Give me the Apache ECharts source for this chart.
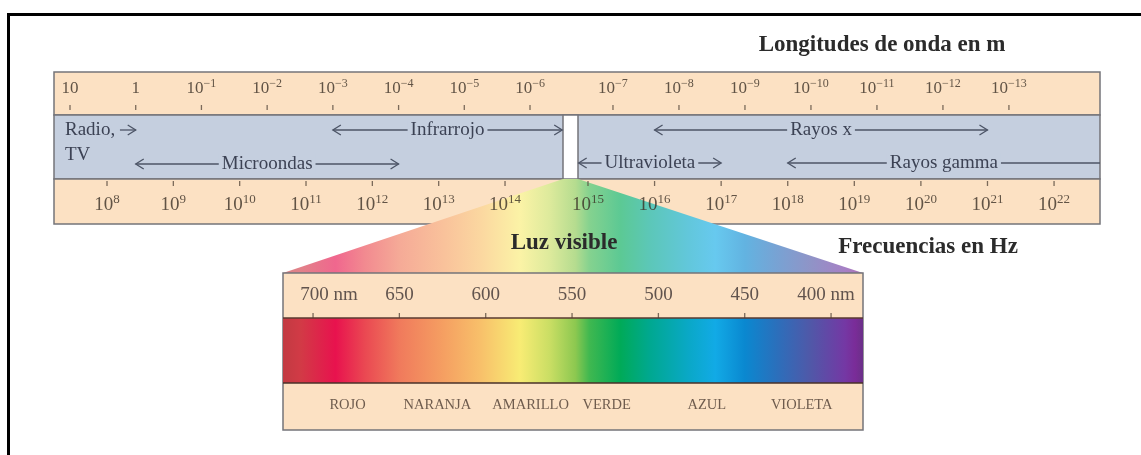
<!DOCTYPE html>
<html>
<head>
<meta charset="utf-8">
<title>Espectro electromagnético</title>
<script src="https://cdn.jsdelivr.net/npm/echarts@6/dist/echarts.min.js"></script>
<style>
html, body { margin: 0; padding: 0; background: #fff; }
#main { width: 1141px; height: 455px; }
</style>
</head>
<body>
<div id="main"></div>
<script>
// potencias de 10 de la longitud de onda (m) y de la frecuencia (Hz)
var longitudExp = [1, 0, -1, -2, -3, -4, -5, -6, -7, -8, -9, -10, -11, -12, -13];
var frecuenciaExp = [8, 9, 10, 11, 12, 13, 14, 15, 16, 17, 18, 19, 20, 21, 22];

// luz visible (nm)
var visibleNm = [700, 650, 600, 550, 500, 450, 400];
var colorNombre = ['ROJO', 'NARANJA', 'AMARILLO', 'VERDE', 'AZUL', 'VIOLETA'];
var colorNm = [680, 628, 574, 530, 472, 417];

var espectroNm = [717.4, 707, 687, 670, 650, 624, 603, 580, 563, 548, 540, 522, 505, 482, 467, 450, 432, 412, 392, 386, 381.5];
var espectroColor = ['#c23a42', '#d23a46', '#e8124e', '#ea4852', '#f07a5c', '#f5a062', '#f8c06a', '#f8ec74', '#cade64', '#8cc850', '#40b850', '#00aa58', '#00a890', '#0aa8c8', '#12aae6', '#0a88d0', '#2a70bc', '#5058a8', '#7438a4', '#7a2c98', '#6a3088'];

// regiones (log10 de la longitud de onda a la izquierda, de la frecuencia a la derecha)
var regionNombre = ['', 'Infrarrojo', 'Microondas', 'Rayos x', 'Ultravioleta', 'Rayos gamma'];
var regionDesde = [0.24, -3, 0, 16, 14.86, 18];
var regionHasta = [0, -6.49, -4, 21, 17, 22.69];

var serif = "'Liberation Serif', 'DejaVu Serif', serif";
var naranja = '#fce1c3', azulGris = '#c5cfdf', borde = '#74747a';

// limites de las escalas
var lamIzq = [-6.502, 1.2435], frIzq = [7.201, 14.874];
var lamDer = [-14.38, -6.47], frDer = [14.85, 22.69];
var nmMin = 381.5, nmMax = 717.4;

function mezcla(hex, f) {
  var n = parseInt(hex.slice(1), 16);
  var r = (n >> 16) & 255, g = (n >> 8) & 255, b = n & 255;
  r = Math.round(r * (1 - f) + 255 * f);
  g = Math.round(g * (1 - f) + 255 * f);
  b = Math.round(b * (1 - f) + 255 * f);
  return 'rgb(' + r + ',' + g + ',' + b + ')';
}

function etiquetaPot(e) {
  if (e === 1) return '{b|10}';
  if (e === 0) return '{b|1}';
  return '{b|10}{s|' + (e < 0 ? '\u2212' : '') + Math.abs(e) + '}';
}
function richPot(tam, sup) {
  return {
    b: { fontSize: tam, fontFamily: serif, color: '#3a2f26', lineHeight: tam + 5 },
    s: { fontSize: sup, fontFamily: serif, color: '#3a2f26', lineHeight: sup, verticalAlign: 'top' }
  };
}

function serieMarcas(valores, xi, yi, yTick, yTxt, tam, sup) {
  return [{
    type: 'scatter', xAxisIndex: xi, yAxisIndex: yi, silent: true,
    symbol: 'rect', symbolSize: [1.3, 5],
    itemStyle: { color: '#5a4c40' },
    data: valores.map(function (v) { return [v, yTick]; })
  }, {
    type: 'scatter', xAxisIndex: xi, yAxisIndex: yi, silent: true,
    symbolSize: 0,
    data: valores.map(function (v) { return [v, yTxt]; }),
    label: {
      show: true, position: 'inside',
      formatter: function (p) { return etiquetaPot(p.value[0]); },
      rich: richPot(tam, sup)
    }
  }];
}

// flecha con texto, 1 = punta izquierda, 2 = derecha, 3 = ambas
function serieFlecha(i, xi, yi, fila, puntas) {
  var nombre = regionNombre[i];
  return {
    type: 'custom', xAxisIndex: xi, yAxisIndex: yi, silent: true, z: 4,
    data: [[regionDesde[i], regionHasta[i], fila]],
    encode: { x: [0, 1], y: 2 },
    renderItem: function (params, api) {
      var a = api.coord([api.value(0), api.value(2)]);
      var b = api.coord([api.value(1), api.value(2)]);
      var x1 = Math.min(a[0], b[0]), x2 = Math.max(a[0], b[0]), y = a[1];
      var trazo = { stroke: '#4c5466', lineWidth: 1.3, fill: null };
      var hijos = [{ type: 'line', shape: { x1: x1, y1: y, x2: x2, y2: y }, style: trazo }];
      if (puntas & 1) hijos.push({ type: 'polyline', shape: { points: [[x1 + 8, y - 5], [x1, y], [x1 + 8, y + 5]] }, style: trazo });
      if (puntas & 2) hijos.push({ type: 'polyline', shape: { points: [[x2 - 8, y - 5], [x2, y], [x2 - 8, y + 5]] }, style: trazo });
      if (nombre) {
        hijos.push({
          type: 'text', x: (x1 + x2) / 2, y: y,
          style: {
            text: nombre, font: '19px ' + serif, fill: '#3c4254',
            align: 'center', verticalAlign: 'middle',
            backgroundColor: azulGris, padding: [0, 3]
          }
        });
      }
      return { type: 'group', children: hijos };
    }
  };
}

// degradado del abanico de luz visible
var abanicoStops = espectroNm.map(function (nm, k) {
  return { offset: (nmMax - nm) / (nmMax - nmMin), color: mezcla(espectroColor[k], 0.36) };
});

var myChart = echarts.init(document.getElementById('main'), null, { renderer: 'canvas' });

var izqL = longitudExp.filter(function (e) { return e >= -6; });
var derL = longitudExp.filter(function (e) { return e < -6; });
var izqF = frecuenciaExp.filter(function (e) { return e <= 14; });
var derF = frecuenciaExp.filter(function (e) { return e > 14; });

var series = [];
series = series.concat(serieMarcas(izqL, 0, 0, 35.5, 17, 17, 12));
series = series.concat(serieMarcas(derL, 2, 1, 35.5, 17, 17, 12));
series = series.concat(serieMarcas(izqF, 1, 0, 111.5, 133, 19, 13));
series = series.concat(serieMarcas(derF, 3, 1, 111.5, 133, 19, 13));

series.push(serieFlecha(0, 0, 0, 58, 2));
series.push(serieFlecha(1, 0, 0, 58, 3));
series.push(serieFlecha(2, 0, 0, 92, 3));
series.push(serieFlecha(3, 3, 1, 58, 3));
series.push(serieFlecha(4, 3, 1, 91, 3));
series.push(serieFlecha(5, 3, 1, 91, 1));

// barra del espectro
series.push({
  type: 'custom', xAxisIndex: 4, yAxisIndex: 2, silent: true, z: 3,
  data: [[espectroNm[0], espectroNm[espectroNm.length - 1], 45, 110]],
  encode: { x: [0, 1], y: [2, 3] },
  renderItem: function (params, api) {
    var p0 = api.coord([api.value(0), api.value(2)]);
    var p1 = api.coord([api.value(1), api.value(3)]);
    var stops = espectroNm.map(function (nm, k) {
      var x = api.coord([nm, 0])[0];
      return { offset: Math.min(1, Math.max(0, (x - p0[0]) / (p1[0] - p0[0]))), color: espectroColor[k] };
    });
    return {
      type: 'group', children: [{
        type: 'rect',
        shape: { x: p0[0], y: p0[1], width: p1[0] - p0[0], height: p1[1] - p0[1] },
        style: { fill: new echarts.graphic.LinearGradient(0, 0, 1, 0, stops) }
      }, {
        type: 'line', shape: { x1: p0[0], y1: p0[1], x2: p1[0], y2: p0[1] },
        style: { stroke: '#5a3a30', lineWidth: 1.5 }
      }, {
        type: 'line', shape: { x1: p0[0], y1: p1[1], x2: p1[0], y2: p1[1] },
        style: { stroke: '#4a3028', lineWidth: 1.5 }
      }]
    };
  }
});

// marcas y rotulos en nm
series.push({
  type: 'scatter', xAxisIndex: 4, yAxisIndex: 2, silent: true,
  symbol: 'rect', symbolSize: [1.3, 5], itemStyle: { color: '#5a4c40' },
  data: visibleNm.map(function (v) { return [v, 42.5]; })
});
series.push({
  type: 'scatter', xAxisIndex: 4, yAxisIndex: 2, silent: true, symbolSize: 0,
  data: visibleNm.map(function (v, k) {
    var off = k === 0 ? [16, 0] : (k === visibleNm.length - 1 ? [-5, 0] : [0, 0]);
    return { value: [v, 22], label: { offset: off } };
  }),
  label: {
    show: true, position: 'inside', color: '#3a3030', fontSize: 19, fontFamily: serif,
    formatter: function (p) {
      var ext = (p.dataIndex === 0 || p.dataIndex === visibleNm.length - 1) ? ' nm' : '';
      return p.value[0] + ext;
    }
  }
});
series.push({
  type: 'scatter', xAxisIndex: 4, yAxisIndex: 2, silent: true, symbolSize: 0,
  data: colorNm.map(function (v, k) { return { value: [v, 132], name: colorNombre[k] }; }),
  label: {
    show: true, position: 'inside', color: '#4a3a30', fontSize: 14.5, fontFamily: serif,
    formatter: '{b}'
  }
});

var ejeOculto = { type: 'value', show: false };
function eje(extra) { return Object.assign({}, ejeOculto, extra); }

var option = {
  backgroundColor: '#ffffff',
  animation: false,
  grid: [
    { left: 54, top: 72, width: 509, height: 152 },
    { left: 578, top: 72, width: 522, height: 152 },
    { left: 283, top: 273, width: 580, height: 157 }
  ],
  xAxis: [
    eje({ gridIndex: 0, position: 'top', min: lamIzq[0], max: lamIzq[1], inverse: true }),
    eje({ gridIndex: 0, position: 'bottom', min: frIzq[0], max: frIzq[1] }),
    eje({ gridIndex: 1, position: 'top', min: lamDer[0], max: lamDer[1], inverse: true }),
    eje({ gridIndex: 1, position: 'bottom', min: frDer[0], max: frDer[1] }),
    eje({ gridIndex: 2, min: nmMin, max: nmMax, inverse: true })
  ],
  yAxis: [
    eje({ gridIndex: 0, min: 0, max: 152, inverse: true }),
    eje({ gridIndex: 1, min: 0, max: 152, inverse: true }),
    eje({ gridIndex: 2, min: 0, max: 157, inverse: true })
  ],
  graphic: [
    // marco
    { type: 'line', z: 0, shape: { x1: 7, y1: 14.5, x2: 1141, y2: 14.5 }, style: { stroke: '#000', lineWidth: 3 } },
    { type: 'line', z: 0, shape: { x1: 8.5, y1: 13, x2: 8.5, y2: 455 }, style: { stroke: '#000', lineWidth: 3 } },
    // bandas
    { type: 'rect', z: 0, shape: { x: 54, y: 72, width: 1046, height: 43 }, style: { fill: naranja, stroke: borde, lineWidth: 1.5 } },
    { type: 'rect', z: 0, shape: { x: 54, y: 115, width: 1046, height: 64 }, style: { fill: azulGris, stroke: borde, lineWidth: 1.5 } },
    { type: 'rect', z: 0, shape: { x: 54, y: 179, width: 1046, height: 45 }, style: { fill: naranja, stroke: borde, lineWidth: 1.5 } },
    { type: 'rect', z: 0, shape: { x: 563, y: 115, width: 15, height: 64 }, style: { fill: '#ffffff', stroke: borde, lineWidth: 1.5 } },
    // abanico
    {
      type: 'polygon', z: 1,
      shape: { points: [[563, 179], [578, 179], [863, 273], [283, 273]] },
      style: { fill: { type: 'linear', x: 283, y: 0, x2: 863, y2: 0, global: true, colorStops: abanicoStops } }
    },
    // caja del espectro
    { type: 'rect', z: 1, shape: { x: 283, y: 273, width: 580, height: 157 }, style: { fill: naranja, stroke: borde, lineWidth: 1.5 } },
    // textos
    { type: 'text', z: 5, x: 882, y: 45, style: { text: 'Longitudes de onda en m', font: 'bold 23px ' + serif, fill: '#2b2b2b', align: 'center', verticalAlign: 'middle' } },
    { type: 'text', z: 5, x: 928, y: 247, style: { text: 'Frecuencias en Hz', font: 'bold 23px ' + serif, fill: '#2b2b2b', align: 'center', verticalAlign: 'middle' } },
    { type: 'text', z: 5, x: 564, y: 243, style: { text: 'Luz visible', font: 'bold 23px ' + serif, fill: '#2b2b2b', align: 'center', verticalAlign: 'middle' } },
    { type: 'text', z: 5, x: 65, y: 130, style: { text: 'Radio,', font: '19px ' + serif, fill: '#3c4254', align: 'left', verticalAlign: 'middle' } },
    { type: 'text', z: 5, x: 65, y: 155, style: { text: 'TV', font: '19px ' + serif, fill: '#3c4254', align: 'left', verticalAlign: 'middle' } }
  ],
  series: series
};

myChart.setOption(option);
</script>
</body>
</html>
